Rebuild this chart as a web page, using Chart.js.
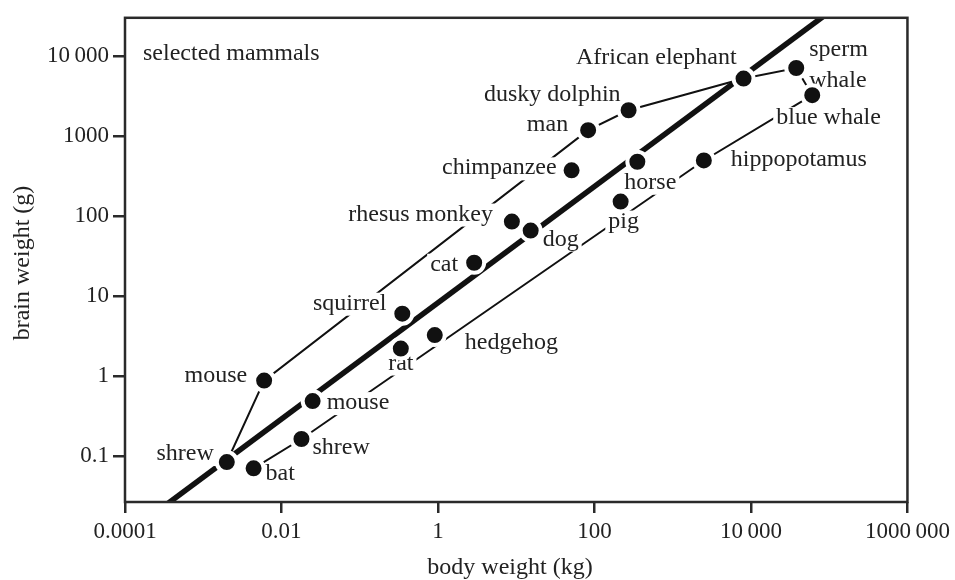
<!DOCTYPE html>
<html><head><meta charset="utf-8">
<script src="https://cdn.jsdelivr.net/npm/chart.js@4"></script>
<style>html,body{margin:0;padding:0;background:#fff;}#wrap{width:955px;height:580px;}</style>
</head><body><div id="wrap"><canvas id="c" width="955" height="580"></canvas></div>
<script>
// ---- data ----
const species = ["shrew","bat","mouse","shrew","mouse","rat","squirrel","hedgehog","cat","rhesus monkey","dog","chimpanzee","man","dusky dolphin","pig","horse","hippopotamus","African elephant","sperm\nwhale","blue whale"];
const bodyWeightKg = [0.002,0.0044,0.006,0.018,0.025,0.335,0.35,0.91,2.9,8.8,15.3,51,83,273,216,353,2500,8040,37900,60700];
const brainWeightG = [0.084,0.07,0.875,0.163,0.485,2.2,6.0,3.24,26,85,65.5,371,1180,2090,151,475,493,5200,7050,3230];
const upperBody = [0.002,0.006,83,273,8040,37900,60700];
const upperBrain = [0.084,0.875,1180,2090,5200,7050,3230];
const lowerBody = [0.0044,0.018,2500,60700];
const lowerBrain = [0.07,0.163,493,3230];
const trendBody = [0.0001,1000000];
const trendBrain = [0.0102,188000];
const xTickValues = [0.0001,0.01,1,100,10000,1000000];
const xTickLabels = ["0.0001","0.01","1","100","10\u2009000","1000\u2009000"];
const yTickValues = [0.1,1,10,100,1000,10000];
const yTickLabels = ["0.1","1","10","100","1000","10\u2009000"];
const panelNote = "selected mammals";
const xTitle = "body weight (kg)";
const yTitle = "brain weight (g)";

// ---- label styling (offsets from each point, in px) ----
const labelStyle = [
  {dx:-13,dy:-2,a:'right'},{dx:12,dy:12,a:'left'},{dx:-17,dy:1,a:'right'},{dx:11,dy:15,a:'left'},
  {dx:14,dy:8,a:'left'},{dx:0,dy:21,a:'center'},{dx:-16,dy:-4,a:'right'},{dx:30,dy:14,a:'left'},
  {dx:-16,dy:8,a:'right'},{dx:-19,dy:-1,a:'right'},{dx:12,dy:15,a:'left'},{dx:-15,dy:4,a:'right'},
  {dx:-20,dy:1,a:'right'},{dx:-8,dy:-9,a:'right'},{dx:3,dy:26,a:'center'},{dx:-13,dy:27,a:'left'},
  {dx:27,dy:6,a:'left'},{dx:-7,dy:-15,a:'right'},{dx:13,dy:-12,a:'left',nobg:true,lh:30.7},{dx:-36,dy:29,a:'left'}
];
const FONT = "'Liberation Serif','Times New Roman',serif";
const INK = '#222';

const pts = (xs, ys) => xs.map((x,i)=>({x:x, y:ys[i]}));

const labelPlugin = {
  id:'labels',
  beforeDatasetDraw(chart, args){
    if (args.index !== 0) return;
    const c = chart.ctx, xs = chart.scales.x, ys = chart.scales.y;
    c.save();
    c.font = '24px ' + FONT;
    c.textBaseline = 'alphabetic';
    species.forEach((name,i)=>{
      const st = labelStyle[i];
      const px = xs.getPixelForValue(bodyWeightKg[i]) + st.dx;
      const py = ys.getPixelForValue(brainWeightG[i]) + st.dy;
      const lines = name.split('\n');
      lines.forEach((ln,k)=>{
        const by = py + k*(st.lh||28);
        const w = c.measureText(ln).width;
        let left = st.a==='left'?px:(st.a==='right'?px-w:px-w/2);
        if (!st.nobg){ c.fillStyle='#fff'; c.fillRect(left-3, by-17, w+6, 23); }
        c.fillStyle = INK; c.textAlign='left';
        c.fillText(ln, left, by);
      });
    });
    c.restore();
  },
  afterDraw(chart){
    const c = chart.ctx, a = chart.chartArea;
    c.save();
    c.strokeStyle = '#2a2a2a'; c.lineWidth = 2.5;
    c.strokeRect(a.left, a.top, a.right-a.left, a.bottom-a.top);
    c.fillStyle = INK; c.font = '24px ' + FONT;
    c.textAlign='left'; c.textBaseline='alphabetic';
    c.fillText(panelNote, 143, 60);
    c.textAlign='center';
    c.fillText(xTitle, 510, 574);
    c.translate(29, 263); c.rotate(-Math.PI/2);
    c.fillText(yTitle, 0, 0);
    c.restore();
  }
};

new Chart(document.getElementById('c'), {
  type:'scatter',
  data:{datasets:[
    {label:'species', data:pts(bodyWeightKg,brainWeightG), pointRadius:10, pointHoverRadius:10,
     pointBackgroundColor:'#111', pointBorderColor:'#fff', pointBorderWidth:4, showLine:false, order:0, clip:false},
    {label:'trend', data:pts(trendBody,trendBrain), showLine:true, borderColor:'#111', borderWidth:5.5,
     pointRadius:0, tension:0, order:2, clip:0},
    {label:'upper', data:pts(upperBody,upperBrain), showLine:true, borderColor:'#111', borderWidth:2,
     pointRadius:0, tension:0, order:1, clip:0},
    {label:'lower', data:pts(lowerBody,lowerBrain), showLine:true, borderColor:'#111', borderWidth:2,
     pointRadius:0, tension:0, order:1, clip:0}
  ]},
  options:{
    responsive:false, animation:false, devicePixelRatio:1,
    layout:{padding:{left:0,right:47,top:13,bottom:0}},
    plugins:{legend:{display:false}, tooltip:{enabled:false}},
    scales:{
      x:{type:'logarithmic', min:0.0001, max:1000000,
        afterBuildTicks:s=>{ s.ticks = xTickValues.map(v=>({value:v})); },
        afterFit:s=>{ s.height = 78; },
        ticks:{callback:(v,i)=>xTickLabels[i], autoSkip:false, maxRotation:0, font:{family:FONT,size:23}, color:INK, padding:5},
        grid:{drawOnChartArea:false, tickLength:11, color:'#2a2a2a', lineWidth:2.5},
        border:{display:false}},
      y:{type:'logarithmic', min:0.0266, max:29900,
        afterBuildTicks:s=>{ s.ticks = yTickValues.map(v=>({value:v})); },
        afterFit:s=>{ s.width = 125; },
        ticks:{callback:(v,i)=>yTickLabels[i], autoSkip:false, font:{family:FONT,size:23}, color:INK, padding:4},
        grid:{drawOnChartArea:false, tickLength:12, color:'#2a2a2a', lineWidth:2.5},
        border:{display:false}}
    }
  },
  plugins:[labelPlugin]
});
</script></body></html>
